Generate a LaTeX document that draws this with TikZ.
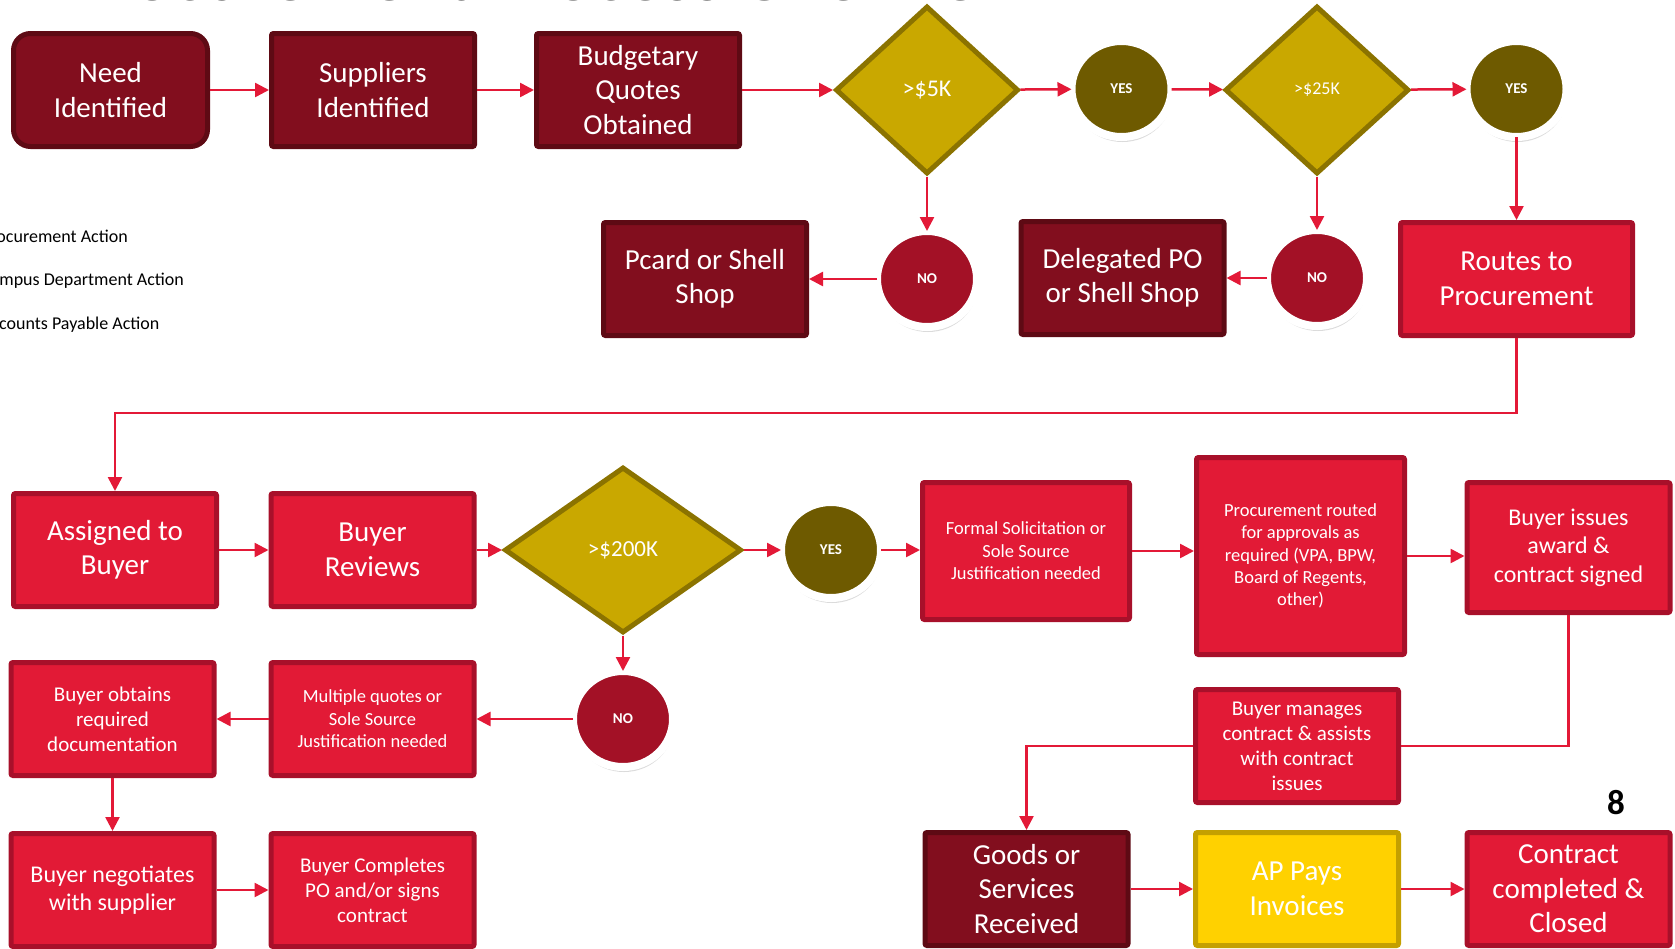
\documentclass[tikz,border=0pt]{standalone}
\usepackage{fontspec}
\setmainfont{Carlito}
\usepackage{tikz}
\usetikzlibrary{arrows.meta, positioning, shapes.geometric, shadows}

\definecolor{deptred}{HTML}{820E1E}
\definecolor{deptedge}{HTML}{5E0A14}
\definecolor{procred}{HTML}{E21A36}
\definecolor{procedge}{HTML}{A8102A}
\definecolor{apgold}{HTML}{FFD100}
\definecolor{apedge}{HTML}{C4A000}
\definecolor{decfill}{HTML}{C9A800}
\definecolor{decedge}{HTML}{8B7300}
\definecolor{yesfill}{HTML}{6E5A00}
\definecolor{nofill}{HTML}{A31126}
\definecolor{flowred}{HTML}{E31937}

\tikzset{
  box/.style={rectangle, rounded corners=2, line width=5, minimum width=203, minimum height=113, align=center, text=white, inner sep=2},
  dept/.style={box, fill=deptred, draw=deptedge},
  proc/.style={box, fill=procred, draw=procedge},
  apbox/.style={box, fill=apgold, draw=apedge},
  decision/.style={diamond, fill=decfill, draw=decedge, line width=5, inner sep=0, text=white},
  answer/.style={ellipse, draw=white, line width=8, minimum width=100, minimum height=96, outer sep=0, text=white,
    font=\fontsize{15}{18}\selectfont\bfseries,
    drop shadow={shadow xshift=1pt, shadow yshift=-5pt, fill=black, opacity=0.14}},
  flow/.style={draw=flowred, line width=2.5, -{Triangle[length=14pt, width=14pt]}},
  plain/.style={draw=flowred, line width=2.5},
  txtbig/.style={font=\fontsize{29}{34.5}\selectfont},
  txtmid/.style={font=\fontsize{24}{28.5}\selectfont},
  txtsm/.style={font=\fontsize{21}{25}\selectfont},
  txtxs/.style={font=\fontsize{18.5}{22.4}\selectfont},
  legend/.style={anchor=west, inner sep=0, font=\fontsize{18}{22}\selectfont},
}

\begin{document}
\begin{tikzpicture}[x=1pt, y=-1pt]
  \useasboundingbox (0,0) rectangle (1675,948);

  % Title and legend (mostly off the page)
  \node[anchor=base west, inner sep=0, text=black!75, font=\fontsize{76}{90}\selectfont] (title) at (68,0.5) {Procurement Process Overview};
  \node[legend] (lgproc) at (-19,236) {Procurement Action};
  \node[legend] (lgdept) at (-19,281) {Campus Department Action};
  \node[legend] (lgap) at (-19,325) {Accounts Payable Action};

  % Department steps and thresholds
  \node[dept, rounded corners=17, minimum width=194, txtbig] (need) at (110.5,90) {Need\\Identified};
  \node[dept, txtbig] (suppliers) at (373,90) {Suppliers\\Identified};
  \node[dept, txtbig] (quotes) at (638,90) {Budgetary\\Quotes\\Obtained};
  \node[decision, minimum width=183, minimum height=168, font=\fontsize{24}{28}\selectfont] (over5k) at (927,90) {>\$5K};
  \node[answer, fill=yesfill] (yes5k) at (1121.5,89) {YES};
  \node[decision, minimum width=184, minimum height=168, font=\fontsize{18}{22}\selectfont] (over25k) at (1317,90) {>\$25K};
  \node[answer, fill=yesfill] (yes25k) at (1516.5,89) {YES};
  \node[answer, fill=nofill] (no5k) at (927,279) {NO};
  \node[answer, fill=nofill] (no25k) at (1317,278) {NO};
  \node[dept, txtbig] (pcard) at (705,279) {Pcard or Shell\\Shop};
  \node[dept, txtbig] (delegated) at (1122.5,278) {Delegated PO\\or Shell Shop};
  \node[proc, minimum width=232, txtbig] (routes) at (1516.5,279) {Routes to\\Procurement};

  % Procurement steps
  \node[proc, txtbig] (assigned) at (115,550) {Assigned to\\Buyer};
  \node[proc, txtbig] (reviews) at (372.5,550) {Buyer\\Reviews};
  \node[decision, minimum width=237, minimum height=166, font=\fontsize{23}{28}\selectfont] (over200k) at (623,550) {>\$200K};
  \node[answer, fill=yesfill] (yes200k) at (831,550) {YES};
  \node[answer, fill=nofill] (no200k) at (623,719) {NO};
  \node[proc, minimum width=207, minimum height=137, txtxs] (formal) at (1026,551) {Formal Solicitation or\\Sole Source\\Justification needed};
  \node[proc, minimum width=208, minimum height=197, txtxs] (routed) at (1300.5,556) {Procurement routed\\for approvals as\\required (VPA, BPW,\\Board of Regents,\\other)};
  \node[proc, minimum height=130, txtmid] (award) at (1568.5,547.5) {Buyer issues\\award \&\\contract signed};
  \node[proc, txtxs] (multiple) at (372.5,719) {Multiple quotes or\\Sole Source\\Justification needed};
  \node[proc, txtsm] (obtains) at (112.5,719) {Buyer obtains\\required\\documentation};
  \node[proc, txtmid] (negotiates) at (112.5,890) {Buyer negotiates\\with supplier};
  \node[proc, txtsm] (completes) at (372.5,890) {Buyer Completes\\PO and/or signs\\contract};
  \node[proc, txtsm] (manages) at (1297,746) {Buyer manages\\contract \& assists\\with contract\\issues};
  \node[dept, txtbig] (goods) at (1026.5,889) {Goods or\\Services\\Received};
  \node[apbox, txtbig] (appays) at (1297,889) {AP Pays\\Invoices};
  \node[proc, txtbig] (closed) at (1568.5,889) {Contract\\completed \&\\Closed};
  \node[inner sep=0, font=\fontsize{35}{40}\selectfont\bfseries] (pagenum) at (1616,803) {8};

  % Top row flow
  \draw[flow] (need) -- (suppliers);
  \draw[flow] (suppliers) -- (quotes);
  \draw[flow] (quotes) -- (over5k);
  \draw[flow] (over5k) -- (yes5k);
  \draw[flow] (yes5k) -- (over25k);
  \draw[flow] (over25k) -- (yes25k);
  \draw[flow] (over5k) -- (no5k);
  \draw[flow] (no5k) -- (pcard);
  \draw[flow] (over25k) -- (no25k);
  \draw[flow] (no25k) -- (delegated);
  \draw[flow] (yes25k) -- (routes);
  \draw[flow] (routes.south) -- ++(0,75) -| (assigned.north);

  % Buyer flow
  \draw[flow] (assigned) -- (reviews);
  \draw[flow] (reviews) -- (over200k);
  \draw[flow] (over200k) -- (yes200k);
  \draw[flow] (yes200k) -- (yes200k -| formal.west);
  \draw[flow] (formal.east) -- (formal.east -| routed.west);
  \draw[flow] (routed.east) -- (routed.east -| award.west);
  \draw[flow] (over200k) -- (no200k);
  \draw[flow] (no200k) -- (multiple);
  \draw[flow] (multiple) -- (obtains);
  \draw[flow] (obtains) -- (negotiates);
  \draw[flow] (negotiates) -- (completes);

  % Contract follow-up
  \draw[plain] (award.south) |- (manages.east);
  \draw[flow] (manages.west) -| (goods.north);
  \draw[flow] (goods) -- (appays);
  \draw[flow] (appays) -- (closed);
\end{tikzpicture}
\end{document}
